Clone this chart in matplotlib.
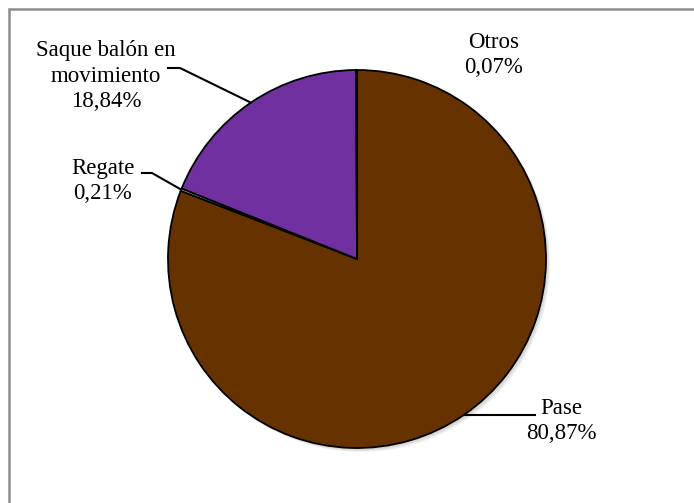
import numpy as np
import matplotlib.pyplot as plt
from matplotlib.patches import Circle

# Datos del gráfico
categorias = ["Pase", "Regate", "Saque balón en\nmovimiento", "Otros"]
porcentajes = [80.87, 0.21, 18.84, 0.07]
etiquetas = ["80,87%", "0,21%", "18,84%", "0,07%"]
colores = ["#663300", "#d9d9d9", "#7030a0", "#a6a6a6"]

W, H = 694, 503
fig = plt.figure(figsize=(W / 100, H / 100), dpi=100)
ax = fig.add_axes([0, 0, 1, 1])

centro = (357, H - 259)
radio = 189

# sombra suave
for i, a in enumerate([0.05, 0.05, 0.06]):
    ax.add_patch(Circle((centro[0] + 2 + i, centro[1] - 2 - i), radio, color="black",
                        alpha=a, lw=0, zorder=0))

wedges, _ = ax.pie(porcentajes, colors=colores, startangle=90, counterclock=False,
                   center=centro, radius=radio, frame=True,
                   wedgeprops=dict(edgecolor="black", linewidth=1.3))
ax.set_xlim(0, W)
ax.set_ylim(0, H)
ax.axis("off")

fuente = dict(family="Liberation Serif", fontsize=16.5, color="black",
              ha="center", va="center", linespacing=1.27)

def borde(w):
    ang = np.deg2rad((w.theta1 + w.theta2) / 2)
    return centro[0] + radio * np.cos(ang), centro[1] + radio * np.sin(ang)

# Pase
ex, ey = borde(wedges[0])
ax.text(561, H - 421, categorias[0] + "\n" + etiquetas[0], **fuente)
ax.plot([ex, 535], [ey, ey], color="black", lw=1.5)

# Regate
ex, ey = borde(wedges[1])
ax.text(103, H - 181, categorias[1] + "\n" + etiquetas[1], **fuente)
ax.plot([142, 152, ex], [H - 173, H - 173, ey], color="black", lw=1.5)

# Saque
ex, ey = borde(wedges[2])
ax.text(106, H - 76, categorias[2] + "\n" + etiquetas[2], **fuente)
ax.plot([168, 180, ex], [H - 68, H - 68, ey], color="black", lw=1.5)

# Otros
ax.text(494, H - 55, categorias[3] + "\n" + etiquetas[3], **fuente)

# marco
ax.plot([9, 9, W], [0, H - 9, H - 9], color="#8c8c8c", lw=1.8, solid_joinstyle="miter")

fig.savefig("out.png", dpi=100, facecolor="white")
